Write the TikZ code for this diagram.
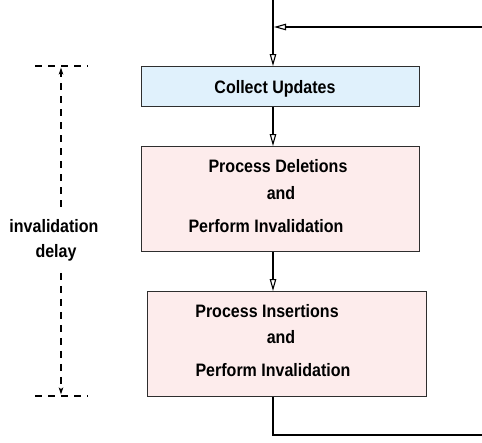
\documentclass[tikz,border=0pt]{standalone}
\usepackage{fontspec}
\setmainfont{Liberation Sans}[FakeStretch=0.89]
\usetikzlibrary{arrows.meta}
\definecolor{boxblue}{HTML}{E0F1FC}
\definecolor{boxpink}{HTML}{FDECEC}
\definecolor{edge}{HTML}{2E2E2E}
\begin{document}
\begin{tikzpicture}[x=1pt,y=-1pt,
  stage/.style={draw=edge, line width=1.2pt, inner sep=0pt, anchor=north west},
  lbl/.style={font=\fontsize{18}{21}\selectfont\bfseries, inner sep=0pt, anchor=base},
  flow/.style={line width=1.1pt, -{Triangle[open,length=12pt,width=6.5pt]}},
  wire/.style={line width=1.1pt},
  delay/.style={line width=1.1pt, dash pattern=on 7pt off 6pt},
  delaytip/.style={-{Stealth[length=7pt,width=4.5pt,inset=1.5pt]}},
]
\useasboundingbox (0,0) rectangle (482,442);

% process stages
\node[stage, fill=boxblue, minimum width=278pt, minimum height=40pt]  (collect)    at (141,66)  {};
\node[stage, fill=boxpink, minimum width=278pt, minimum height=105pt] (deletions)  at (141,146) {};
\node[stage, fill=boxpink, minimum width=279pt, minimum height=105pt] (insertions) at (147,291) {};

% stage texts
\node[lbl] (tcollect) at (275,93)  {Collect Updates};
\node[lbl] (tdel1)    at (278,172) {Process Deletions};
\node[lbl] (tdel2)    at (281,199) {and};
\node[lbl] (tdel3)    at (266,232) {Perform Invalidation};
\node[lbl] (tins1)    at (267,317) {Process Insertions};
\node[lbl] (tins2)    at (281,343) {and};
\node[lbl] (tins3)    at (273,376) {Perform Invalidation};

% main flow and loop back
\coordinate (entry) at (273,0);
\coordinate (back)  at (482,27);
\coordinate (exit)  at (482,435);
\draw[flow] (entry) -- (entry |- collect.north);
\draw[flow] (back) -- ([xshift=1pt]back -| entry);
\draw[flow] (entry |- collect.south) -- (entry |- deletions.north);
\draw[flow] (entry |- deletions.south) -- (entry |- insertions.north);
\draw[wire] (entry |- insertions.south) |- (exit);

% invalidation delay span
\coordinate (dtop) at (61,66);
\coordinate (dbot) at (61,396);
\draw[delay] (35,66) -- (88,66);
\draw[delay] (35,396) -- (88,396);
\node[lbl] (dlbl1) at (54,232) {invalidation};
\node[lbl] (dlbl2) at (56,257) {delay};
\draw[delay, delaytip] ([yshift=12pt]dlbl1.north -| dtop) -- ([yshift=-1.5pt]dtop);
\draw[delay, delaytip] ([yshift=-12pt]dlbl2.south -| dbot) -- ([yshift=1.5pt]dbot);
\end{tikzpicture}
\end{document}
